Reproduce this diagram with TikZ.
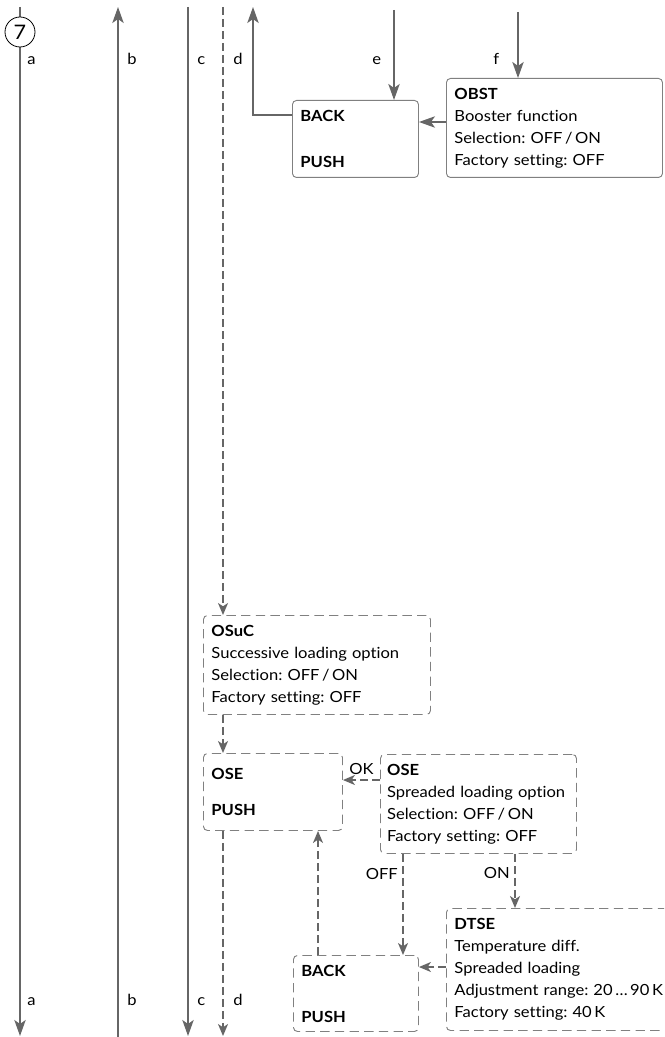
\documentclass[tikz,border=0pt]{standalone}
\usepackage{fontspec}
\setmainfont{Lato}[FakeStretch=1.08,Ligatures=NoCommon]
\usetikzlibrary{arrows.meta}

\begin{document}
\frenchspacing
\begin{tikzpicture}[
    x=0.75pt,y=-0.75pt,
    font=\fontsize{11.5}{16.5}\selectfont,
    menu/.style={draw=black!50,line width=0.7pt,rounded corners=3pt,
        inner xsep=6pt,inner ysep=0pt,align=left,anchor=north west},
    optmenu/.style={menu,dash pattern=on 7pt off 4pt},
    flow/.style={-{Stealth[length=12pt,width=8.5pt,inset=3pt]},draw=black!60,
        color=black!60,line width=1.4pt},
    dflow/.style={-{Stealth[length=9pt,width=7.5pt,inset=2.5pt]},draw=black!60,
        color=black!60,line width=1.2pt,dash pattern=on 6pt off 3pt},
    tag/.style={anchor=base west,inner sep=0pt}
]
    \useasboundingbox (0,0) rectangle (664,1037);
    \clip (0,0) rectangle (664,1037);

    \node[menu,text width=82.5pt,minimum height=57.75pt] (back1) at (292,100)
        {\textbf{BACK}\\[18pt]\textbf{PUSH}};
    \node[menu,text width=150pt,minimum height=74.25pt] (obst) at (446,78)
        {\textbf{OBST}\\Booster function\\Selection: OFF\,/\,ON\\Factory setting: OFF};
    \node[optmenu,text width=158.25pt,minimum height=74.25pt] (osuc) at (203,615)
        {\textbf{OSuC}\\Successive loading option\\Selection: OFF\,/\,ON\\Factory setting: OFF};
    \node[optmenu,text width=92.25pt,minimum height=57.75pt] (ose1) at (203,753)
        {\textbf{OSE}\\[10.5pt]\textbf{PUSH}};
    \node[optmenu,inner xsep=5pt,text width=137pt,minimum height=74.25pt] (ose2) at (380,754)
        {\textbf{OSE}\\Spreaded loading option\\Selection: OFF\,/\,ON\\Factory setting: OFF};
    \node[optmenu,text width=81.75pt,minimum height=57pt] (back2) at (293,955)
        {\textbf{BACK}\\[18pt]\textbf{PUSH}};
    \node[optmenu,text width=178.5pt,minimum height=91.5pt] (dtse) at (446,908)
        {\textbf{DTSE}\\Temperature diff.\\Spreaded loading\\
         Adjustment range: 20\,\dots\,90\,K\\Factory setting: 40\,K};

    \coordinate (atop) at (20,7);   \coordinate (abot) at (20,1036);
    \coordinate (btop) at (118,7);  \coordinate (bbot) at (118,1037);
    \coordinate (ctop) at (188,7);  \coordinate (cbot) at (188,1036);
    \coordinate (dtop) at (223,7);  \coordinate (dbot) at (223,1036);
    \coordinate (backout) at (253,7);
    \coordinate (etop) at (394,10);
    \coordinate (ftop) at (518,12);
    \coordinate (offx) at (403,0);
    \coordinate (onx) at (515,0);
    \coordinate (upx) at (318,0);

    \draw[flow] (atop)--(abot);
    \draw[flow] (bbot)--(btop);
    \draw[flow] (ctop)--(cbot);
    \draw[dflow] (dtop)--(dtop |- osuc.north);
    \draw[dflow] (dtop |- osuc.south)--(dtop |- ose1.north);
    \draw[dflow] (dtop |- ose1.south)--(dbot);

    \draw[flow] (back1.west |- 0,115) -| (backout);
    \draw[flow] (etop)--(etop |- back1.north);
    \draw[flow] (ftop)--(ftop |- obst.north);
    \draw[flow] (obst.west |- 0,122)--(back1.east |- 0,122);

    \draw[dflow] (ose2.west |- 0,780)--node[above,color=black]{OK} (ose1.east |- 0,780);
    \draw[dflow] (offx |- ose2.south)--node[pos=0.2,left,color=black]{OFF} (offx |- back2.north);
    \draw[dflow] (onx |- ose2.south)--node[pos=0.35,left,color=black]{ON} (onx |- dtse.north);
    \draw[dflow] (dtse.west |- 0,967)--(back2.east |- 0,967);
    \draw[dflow] (upx |- back2.north)--(upx |- ose1.south);

    \node[circle,draw=black,line width=0.6pt,fill=white,minimum size=22.5pt,
        inner sep=0pt,font=\fontsize{15}{15}\selectfont] (seven) at (20,32) {7};

    \node[tag] (la) at (27,65) {a};
    \node[tag] (lb) at (127,65) {b};
    \node[tag] (lc) at (197,65) {c};
    \node[tag] (ld) at (233,65) {d};
    \node[tag] (le) at (372,65) {e};
    \node[tag] (lf) at (493,65) {f};
    \node[tag] (la2) at (27,1005) {a};
    \node[tag] (lb2) at (127,1005) {b};
    \node[tag] (lc2) at (197,1005) {c};
    \node[tag] (ld2) at (233,1005) {d};
\end{tikzpicture}
\end{document}
